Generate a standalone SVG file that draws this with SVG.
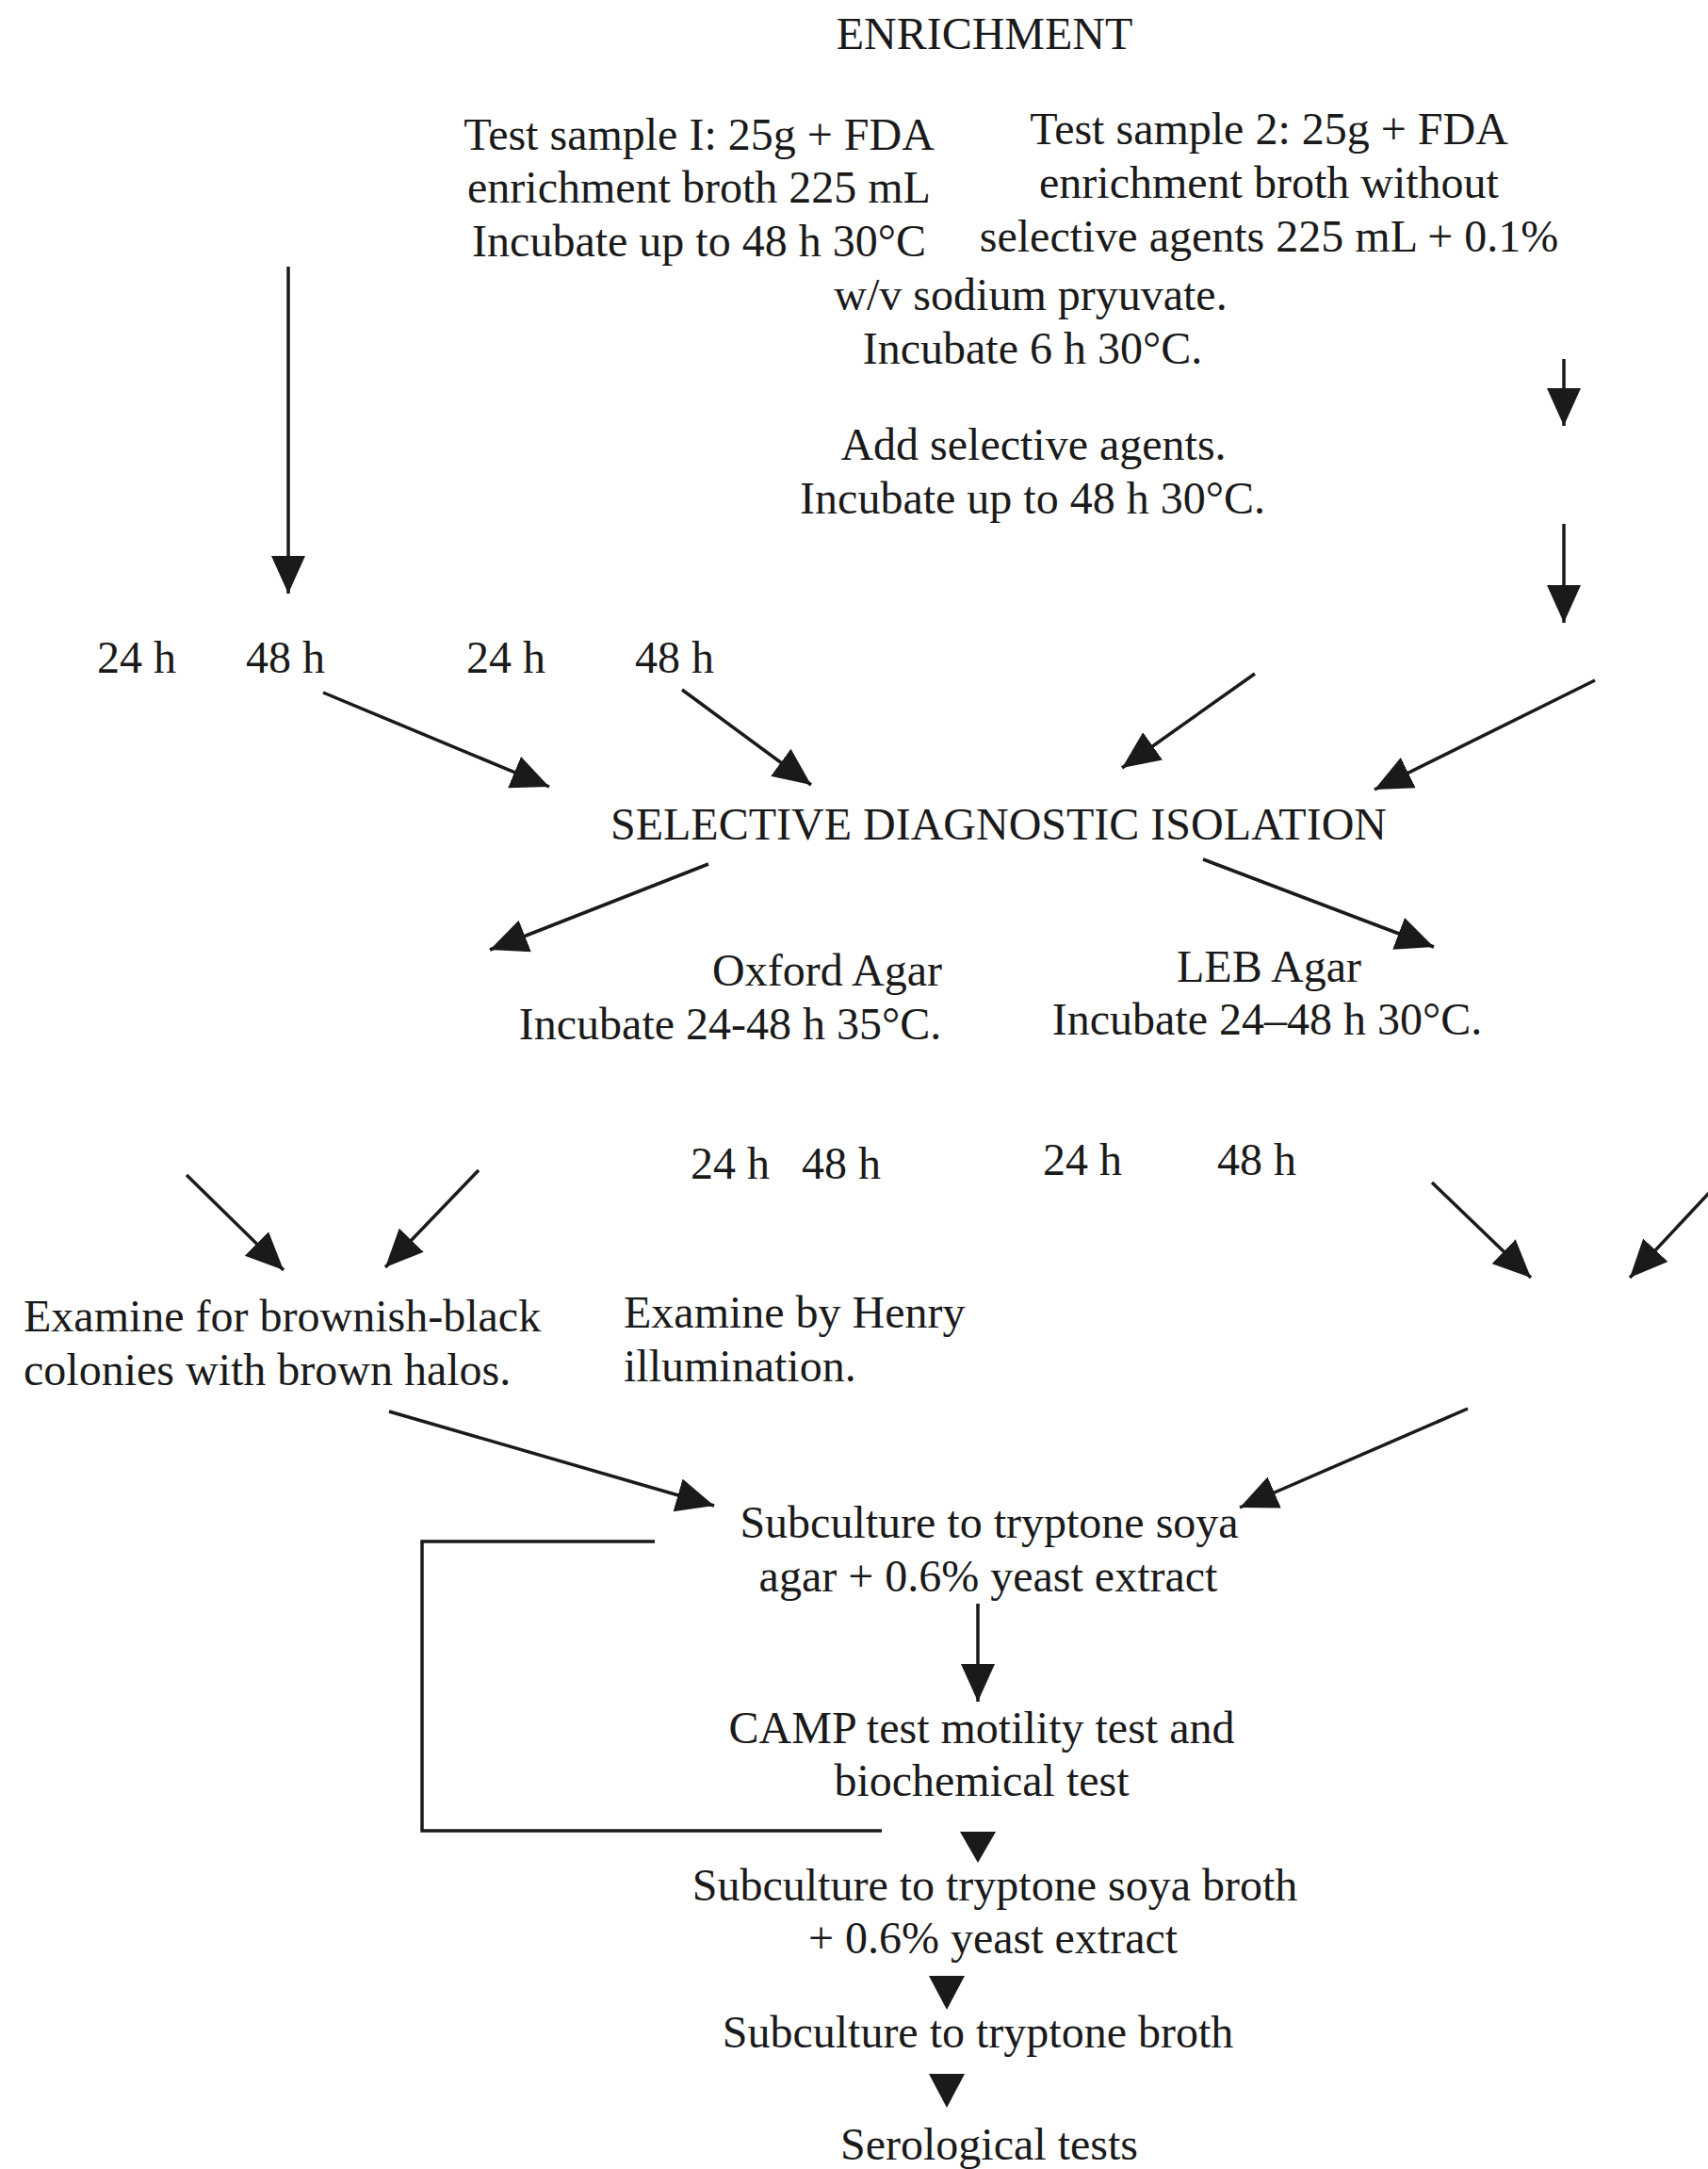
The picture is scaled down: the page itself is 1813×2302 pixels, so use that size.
<svg xmlns="http://www.w3.org/2000/svg" width="1813" height="2302" viewBox="0 0 1813 2302">
<defs>
<style>
text{font-family:"Liberation Serif","Times New Roman",serif;font-size:48px;fill:#1a1a1a}
.c{text-anchor:middle}
.ln{stroke:#1a1a1a;stroke-width:3.5;fill:none}
.tri{fill:#1a1a1a}
</style>
<marker id="ah" markerUnits="userSpaceOnUse" markerWidth="42" markerHeight="38" refX="40" refY="18" orient="auto">
<path d="M0,0 L40,18 L0,36 z" fill="#1a1a1a"/>
</marker>
</defs>
<rect width="1813" height="2302" fill="#ffffff"/>

<g id="connectors">
<line class="ln" x1="306" y1="283" x2="306" y2="630" marker-end="url(#ah)"/>
<line class="ln" x1="1660" y1="381" x2="1660" y2="452" marker-end="url(#ah)"/>
<line class="ln" x1="1660" y1="556" x2="1660" y2="661" marker-end="url(#ah)"/>
<line class="ln" x1="343" y1="735" x2="583" y2="835" marker-end="url(#ah)"/>
<line class="ln" x1="724" y1="732" x2="861" y2="833" marker-end="url(#ah)"/>
<line class="ln" x1="1332" y1="715" x2="1191" y2="815" marker-end="url(#ah)"/>
<line class="ln" x1="1693" y1="722" x2="1459" y2="838" marker-end="url(#ah)"/>
<line class="ln" x1="752" y1="917" x2="520" y2="1008" marker-end="url(#ah)"/>
<line class="ln" x1="1277" y1="912" x2="1522" y2="1005" marker-end="url(#ah)"/>
<line class="ln" x1="198" y1="1247" x2="301" y2="1348" marker-end="url(#ah)"/>
<line class="ln" x1="508" y1="1242" x2="409" y2="1345" marker-end="url(#ah)"/>
<line class="ln" x1="1520" y1="1255" x2="1625" y2="1356" marker-end="url(#ah)"/>
<line class="ln" x1="1816" y1="1264" x2="1730" y2="1356" marker-end="url(#ah)"/>
<line class="ln" x1="413" y1="1498" x2="758" y2="1598" marker-end="url(#ah)"/>
<line class="ln" x1="1558" y1="1495" x2="1316" y2="1600" marker-end="url(#ah)"/>
<line class="ln" x1="1038" y1="1702" x2="1038" y2="1806" marker-end="url(#ah)"/>
<polyline class="ln" points="695,1636 448,1636 448,1943 936,1943"/>
<polygon class="tri" points="1019,1944 1057,1944 1038,1977"/>
<polygon class="tri" points="986,2097 1024,2097 1005,2133"/>
<polygon class="tri" points="986,2201 1024,2201 1005,2237"/>
</g>

<g id="n-enrichment"><text class="c" x="1045" y="52">ENRICHMENT</text></g>
<g id="n-sample1">
<text class="c" x="742" y="159">Test sample I: 25g + FDA</text>
<text class="c" x="742" y="215">enrichment broth 225 mL</text>
<text class="c" x="742" y="272">Incubate up to 48 h 30°C</text>
</g>
<g id="n-sample2">
<text class="c" x="1347" y="153">Test sample 2: 25g + FDA</text>
<text class="c" x="1347" y="210">enrichment broth without</text>
<text class="c" x="1347" y="267">selective agents 225 mL + 0.1%</text>
<text class="c" x="1094" y="329">w/v sodium pryuvate.</text>
<text class="c" x="1096" y="386">Incubate 6 h 30°C.</text>
</g>
<g id="n-addselective">
<text class="c" x="1097" y="488">Add selective agents.</text>
<text class="c" x="1096" y="545">Incubate up to 48 h 30°C.</text>
</g>
<g id="n-times1">
<text x="103" y="714">24 h</text>
<text x="261" y="714">48 h</text>
<text x="495" y="714">24 h</text>
<text x="674" y="714">48 h</text>
</g>
<g id="n-selective"><text class="c" x="1060" y="891">SELECTIVE DIAGNOSTIC ISOLATION</text></g>
<g id="n-oxford">
<text class="c" x="878" y="1046">Oxford Agar</text>
<text class="c" x="775" y="1103">Incubate 24-48 h 35°C.</text>
</g>
<g id="n-leb">
<text class="c" x="1347" y="1042">LEB Agar</text>
<text class="c" x="1345" y="1098">Incubate 24–48 h 30°C.</text>
</g>
<g id="n-times2">
<text x="733" y="1251">24 h</text>
<text x="851" y="1251">48 h</text>
<text x="1107" y="1247">24 h</text>
<text x="1292" y="1247">48 h</text>
</g>
<g id="n-examine1">
<text x="25" y="1413">Examine for brownish-black</text>
<text x="25" y="1470">colonies with brown halos.</text>
</g>
<g id="n-examine2">
<text x="662" y="1409">Examine by Henry</text>
<text x="662" y="1466">illumination.</text>
</g>
<g id="n-sub1">
<text class="c" x="1050" y="1632">Subculture to tryptone soya</text>
<text class="c" x="1049" y="1689">agar + 0.6% yeast extract</text>
</g>
<g id="n-camp">
<text class="c" x="1042" y="1850">CAMP test motility test and</text>
<text class="c" x="1042" y="1906">biochemical test</text>
</g>
<g id="n-sub2">
<text class="c" x="1056" y="2017">Subculture to tryptone soya broth</text>
<text class="c" x="1054" y="2073">+ 0.6% yeast extract</text>
</g>
<g id="n-sub3"><text class="c" x="1038" y="2173">Subculture to tryptone broth</text></g>
<g id="n-sero"><text class="c" x="1050" y="2292">Serological tests</text></g>
</svg>
